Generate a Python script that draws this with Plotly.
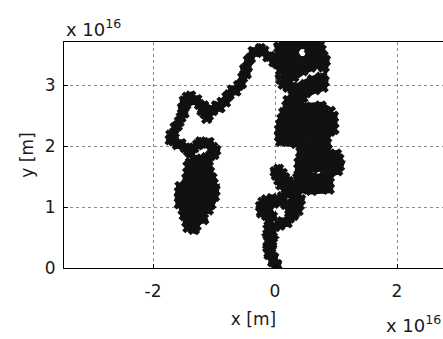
import plotly.graph_objects as go

# Path of the random walk (units of 1e16 m)
stem_x = [0, 0.03, -0.04, -0.02, -0.1, -0.06, -0.12, -0.05, -0.1, -0.04, -0.12, -0.06, -0.1, 0.0, 0.08, 0.12,
          0.2, 0.24, 0.3, 0.25, 0.33, 0.28, 0.36, 0.3, 0.35, 0.28, 0.2, 0.12, 0.04, -0.05, -0.14, -0.2, -0.24,
          -0.18, -0.22, -0.14, -0.1, -0.04, -0.1, -0.12, -0.02, 0.08, 0.18, 0.24, 0.32, 0.38, 0.4, 0.42, 0.36,
          0.28, 0.18, 0.1, 0.06, 0.02, 0.0, 0.06, 0.12, 0.16, 0.22, 0.16, 0.25, 0.32, 0.4, 0.48]
stem_y = [0.0, 0.06, 0.1, 0.17, 0.22, 0.28, 0.34, 0.4, 0.46, 0.5, 0.55, 0.6, 0.65, 0.68, 0.7, 0.76,
          0.74, 0.82, 0.86, 0.92, 0.98, 1.05, 1.1, 1.16, 1.22, 1.26, 1.22, 1.17, 1.12, 1.14, 1.12, 1.08, 1.01,
          0.96, 0.9, 0.86, 0.78, 0.84, 0.94, 1.02, 1.06, 1.08, 1.04, 0.96, 0.9, 0.94, 1.03, 1.12, 1.18,
          1.28, 1.3, 1.36, 1.44, 1.52, 1.58, 1.62, 1.55, 1.48, 1.42, 1.36, 1.33, 1.38, 1.33, 1.35]

right_x = [0.45, 0.6, 0.75, 0.88, 0.88, 0.72, 0.55, 0.4, 0.38, 0.55, 0.7, 0.88, 0.9, 1.02, 1.05, 0.9,
           0.72, 0.55, 0.4, 0.4, 0.6, 0.8, 1.04, 1.0, 0.85, 0.65, 0.43, 0.43, 0.6, 0.85, 0.84, 0.6, 0.35,
           0.1, 0.08, 0.3, 0.55, 0.82, 0.9, 0.96, 0.7, 0.4, 0.08, 0.1, 0.35, 0.65, 0.95, 0.95, 0.7, 0.4,
           0.12, 0.15, 0.4, 0.7, 0.9, 0.75, 0.5, 0.2, 0.22, 0.4, 0.45, 0.3, 0.35]
right_y = [1.3, 1.28, 1.31, 1.3, 1.39, 1.38, 1.4, 1.38, 1.47, 1.49, 1.47, 1.5, 1.58, 1.6, 1.68, 1.67,
           1.64, 1.66, 1.62, 1.72, 1.74, 1.72, 1.78, 1.86, 1.83, 1.84, 1.8, 1.9, 1.92, 1.94, 2.04, 2.02, 2.05,
           2.08, 2.16, 2.15, 2.18, 2.14, 2.25, 2.28, 2.27, 2.25, 2.26, 2.35, 2.37, 2.34, 2.38, 2.48, 2.45, 2.47,
           2.44, 2.54, 2.57, 2.55, 2.56, 2.65, 2.63, 2.65, 2.74, 2.72, 2.8, 2.83, 2.9]

top_x = [0.5, 0.65, 0.78, 0.8, 0.76, 0.62, 0.5, 0.38, 0.22, 0.14, 0.1, 0.2, 0.3, 0.45, 0.58, 0.72,
         0.8, 0.82, 0.78, 0.64, 0.57, 0.6, 0.75, 0.72, 0.6, 0.45, 0.3, 0.15, 0.07, 0.1, 0.22, 0.32, 0.3,
         0.18, 0.07, 0.06, 0.1, 0.2, 0.3, 0.45, 0.6, 0.45, 0.3, 0.15, 0.04]
top_y = [2.88, 2.93, 2.97, 3.06, 3.12, 3.08, 3.0, 2.96, 2.97, 3.02, 3.1, 3.12, 3.14, 3.24, 3.3, 3.35,
         3.3, 3.4, 3.47, 3.44, 3.5, 3.58, 3.57, 3.64, 3.68, 3.66, 3.68, 3.66, 3.62, 3.55, 3.58, 3.54, 3.46,
         3.45, 3.44, 3.35, 3.25, 3.22, 3.3, 3.36, 3.38, 3.4, 3.38, 3.34, 3.36]

ridge_x = [-0.02, -0.08, -0.12, -0.18, -0.24, -0.3, -0.36, -0.4, -0.44, -0.45, -0.5, -0.47, -0.53, -0.55,
           -0.6, -0.64, -0.7, -0.75, -0.79, -0.81, -0.87, -0.9, -0.96, -1.02, -1.06, -1.09, -1.12, -1.15,
           -1.2, -1.17, -1.24, -1.28, -1.34, -1.38, -1.44, -1.49, -1.46, -1.52, -1.49, -1.54, -1.57, -1.6,
           -1.64, -1.65, -1.71, -1.72, -1.66, -1.6, -1.54, -1.47, -1.42,
           -1.38, -1.33, -1.27, -1.22, -1.15, -1.08, -1.02, -0.97, -1.0, -1.06, -1.12]
ridge_y = [3.38, 3.47, 3.46, 3.56, 3.6, 3.53, 3.55, 3.44, 3.4, 3.3, 3.26, 3.18, 3.12, 3.02,
           2.99, 2.9, 2.92, 2.84, 2.8, 2.72, 2.72, 2.63, 2.66, 2.58, 2.6, 2.5, 2.45, 2.53,
           2.58, 2.66, 2.68, 2.76, 2.74, 2.82, 2.8, 2.74, 2.68, 2.62, 2.54, 2.47, 2.4, 2.33,
           2.3, 2.22, 2.18, 2.1, 2.08, 2.02, 2.04, 1.97, 1.92,
           1.88, 1.97, 2.02, 2.07, 2.03, 2.06, 1.98, 1.93, 1.86, 1.84, 1.8]

left_x = [-1.2, -1.3, -1.38, -1.42, -1.3, -1.18, -1.1, -1.08, -1.2, -1.32, -1.42, -1.44, -1.3, -1.15, -1.04,
          -1.02, -1.15, -1.3, -1.45, -1.55, -1.56, -1.45, -1.33, -1.2, -1.06, -0.99, -1.0, -1.12, -1.28,
          -1.42, -1.56, -1.56, -1.42, -1.28, -1.15, -1.06, -1.1, -1.25, -1.38, -1.5, -1.48, -1.35, -1.2,
          -1.18, -1.3, -1.44, -1.42, -1.33, -1.3]
left_y = [1.76, 1.78, 1.72, 1.66, 1.68, 1.64, 1.66, 1.57, 1.56, 1.58, 1.55, 1.46, 1.48, 1.45, 1.47,
          1.38, 1.36, 1.38, 1.36, 1.33, 1.24, 1.27, 1.22, 1.26, 1.24, 1.27, 1.18, 1.15, 1.17,
          1.14, 1.16, 1.06, 1.08, 1.04, 1.07, 1.05, 0.96, 0.97, 0.94, 0.96, 0.87, 0.88, 0.85,
          0.8, 0.78, 0.76, 0.67, 0.64, 0.7]

x_ticks = [-2, 0, 2]
y_ticks = [0, 1, 2, 3]

FONT = "DejaVu Sans, Verdana, sans-serif"
TXT = "#1a1a1a"
INK = "#111111"

fig = go.Figure()
# consecutive pieces of the same walk; each piece starts where the previous one ended
pieces = [
    (stem_x, stem_y, 8),
    ([stem_x[-1]] + right_x, [stem_y[-1]] + right_y, 9),
    ([right_x[-1]] + top_x, [right_y[-1]] + top_y, 9),
    ([top_x[-1]] + ridge_x, [top_y[-1]] + ridge_y, 8),
    ([ridge_x[-1]] + left_x, [ridge_y[-1]] + left_y, 9),
]
for px, py, w in pieces:
    fig.add_trace(go.Scatter(x=px, y=py, mode="lines+markers",
                             line=dict(color=INK, width=w),
                             marker=dict(color=INK, size=w + 2, symbol="x", line=dict(width=0)),
                             hoverinfo="skip"))

axis_common = dict(
    showgrid=True, gridcolor="#8a8a8a", gridwidth=1, griddash="dot",
    zeroline=False, showline=True, linecolor="#000000", linewidth=1,
    ticks="inside", ticklen=4, tickcolor="#000000", automargin=False,
    tickfont=dict(family=FONT, size=17, color=TXT),
)

fig.update_xaxes(range=[-3.459, 2.754], tickvals=x_ticks, ticktext=["-2", "0", "2"],
                 mirror=True, ticklabelstandoff=8,
                 title=dict(text="x [m]", font=dict(family=FONT, size=17, color=TXT), standoff=12),
                 **axis_common)
fig.update_yaxes(range=[0, 3.705], tickvals=y_ticks, ticktext=[str(v) for v in y_ticks],
                 mirror=False, ticklabelstandoff=4,
                 title=dict(text="y [m]", font=dict(family=FONT, size=17, color=TXT), standoff=6),
                 **axis_common)

fig.add_annotation(text="x 10<sup>16</sup>", xref="paper", yref="paper", x=0.0, y=1.0,
                   xanchor="left", yanchor="bottom", showarrow=False,
                   font=dict(family=FONT, size=18, color=TXT))
fig.add_annotation(text="x 10<sup>16</sup>", xref="paper", yref="paper", x=1.0, y=-0.31,
                   xanchor="right", yanchor="bottom", showarrow=False,
                   font=dict(family=FONT, size=18, color=TXT))

fig.update_layout(
    width=443, height=339,
    margin=dict(l=64, r=0, t=42, b=71),
    plot_bgcolor="white", paper_bgcolor="white",
    showlegend=False,
)

fig.write_html("out.html", config={"displayModeBar": False},
               post_script="document.body.style.margin='0';document.body.style.overflow='hidden';")
